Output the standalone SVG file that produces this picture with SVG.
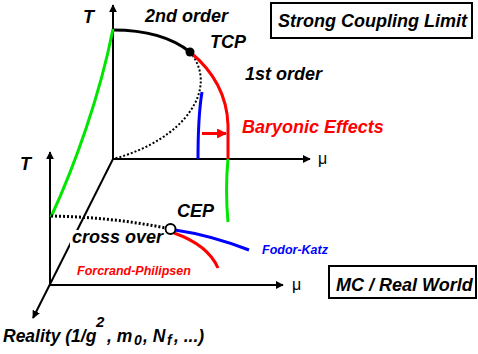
<svg xmlns="http://www.w3.org/2000/svg" width="478" height="354" viewBox="0 0 478 354">
<style>
text{font-family:"Liberation Sans",Arial,sans-serif;font-weight:bold;font-style:italic;fill:#000}
.lbl{font-size:18px}
.small{font-size:12.5px}
.mu{font-style:normal;font-weight:normal;font-size:16px}
.axis{stroke:#000;stroke-width:2;fill:none}
.thick{stroke-width:3;fill:none;stroke-linecap:butt}
.dot{stroke:#000;fill:none;stroke-dasharray:2 2}
.box{fill:#fff;stroke:#000;stroke-width:2}
</style>
<defs>
<marker id="ah" viewBox="0 0 10 10" refX="9" refY="5" markerWidth="4" markerHeight="4" orient="auto" markerUnits="strokeWidth">
<path d="M0,0 L10,5 L0,10 z" fill="#000"/>
</marker>
<marker id="ahr" viewBox="0 0 10 10" refX="9" refY="5" markerWidth="3.3" markerHeight="3.3" orient="auto" markerUnits="strokeWidth">
<path d="M0,0 L10,5 L0,10 z" fill="#f00"/>
</marker>
</defs>
<rect width="478" height="354" fill="#fff"/>
<g id="connectors">
<line class="axis" x1="113" y1="159" x2="113" y2="5" marker-end="url(#ah)"/>
<line class="axis" x1="113" y1="159" x2="310" y2="159" marker-end="url(#ah)"/>
<line class="axis" x1="50" y1="285" x2="50" y2="152" marker-end="url(#ah)"/>
<line class="axis" x1="50" y1="285" x2="283" y2="285" marker-end="url(#ah)"/>
<line class="axis" x1="113" y1="159" x2="33" y2="318" marker-end="url(#ah)"/>
<path class="dot" stroke-width="2" d="M190,52 C220,88 185,140 113,159"/>
<path class="thick" stroke="#000" d="M113,30 C150,30 175,40 190,52"/>
<path class="thick" stroke="#f00" d="M190,52 C212,70 227,95 228,125 L228,159"/>
<path class="thick" stroke="#00e600" stroke-width="2" d="M113,29 C100,95 75,165 51,217"/>
<path class="thick" stroke="#00e600" stroke-width="2" d="M228,159 C226,180 226,200 228,222"/>
<path class="thick" stroke="#00f" d="M202,92 C199,110 198,130 198,159"/>
<line x1="202" y1="133.5" x2="226" y2="133.5" stroke="#f00" stroke-width="3" marker-end="url(#ahr)"/>
<path class="dot" stroke-width="3" d="M51,216 Q110,217 166,228"/>
<path class="thick" stroke="#00f" stroke-width="2.5" d="M175,230 Q210,235 249,250"/>
<path class="thick" stroke="#f00" stroke-width="4" d="M174,233 Q208,245 218,268"/>
</g>
<g id="tcp"><circle cx="190" cy="52" r="4.5" fill="#000"/><text class="lbl" x="210" y="48">TCP</text></g>
<g id="cep"><circle cx="170.5" cy="229" r="5" fill="#fff" stroke="#000" stroke-width="2"/><text class="lbl" x="177" y="217">CEP</text></g>
<g id="label-T-upper"><text class="lbl" x="83" y="23">T</text></g>
<g id="label-T-lower"><text class="lbl" x="20" y="170">T</text></g>
<g id="label-mu-upper"><text class="mu" x="318" y="164">μ</text></g>
<g id="label-mu-lower"><text class="mu" x="292" y="290">μ</text></g>
<g id="label-2nd"><text class="lbl" x="145" y="22">2nd order</text></g>
<g id="label-1st"><text class="lbl" x="245" y="80">1st order</text></g>
<g id="label-baryonic"><text class="lbl" x="242" y="133" style="fill:#f00">Baryonic Effects</text></g>
<g id="box-strong"><rect class="box" x="271" y="3" width="201" height="35"/><text class="lbl" x="278" y="27">Strong Coupling Limit</text></g>
<g id="box-mc"><rect class="box" x="329" y="266" width="147" height="32"/><text class="lbl" x="336" y="291">MC / Real World</text></g>
<g id="label-crossover"><rect x="70" y="230" width="95" height="17" fill="#fff"/><text class="lbl" x="72" y="243">cross over</text></g>
<g id="label-forcrand"><text class="small" x="77" y="275" style="fill:#f00">Forcrand-Philipsen</text></g>
<g id="label-fodor"><text class="small" x="262" y="254" style="fill:#00f">Fodor-Katz</text></g>
<g id="label-reality"><text font-size="17.5"><tspan x="3" y="342">Reality (1/g</tspan><tspan x="96" y="327" font-size="15">2</tspan><tspan x="107" y="342">, m</tspan><tspan x="134" y="345" font-size="14">0</tspan><tspan x="143" y="342">, N</tspan><tspan x="167" y="345" font-size="14">f</tspan><tspan x="174" y="342">, ...)</tspan></text></g>
</svg>
